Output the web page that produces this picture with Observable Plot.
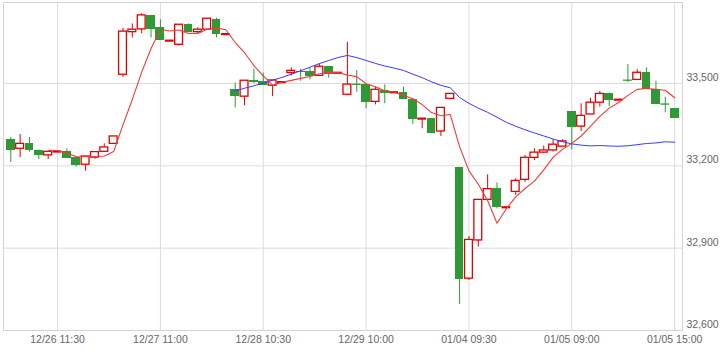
<!DOCTYPE html>
<html><head><meta charset="utf-8">
<script src="https://cdn.jsdelivr.net/npm/d3@7"></script>
<script src="https://cdn.jsdelivr.net/npm/@observablehq/plot@0.6"></script>
<style>html,body{margin:0;padding:0;background:#fff;overflow:hidden}svg{display:block}</style>
</head><body><div id="chart"></div>
<script>
// Trading days and 30-minute bar times
const days = ["12/26","12/27","12/28","12/29","01/04","01/05"];
const times = ["09:00","09:30","10:00","10:30","11:00","11:30","12:30","13:00","13:30","14:00","14:30","15:00"];

// OHLC values per bar
const open  = [33296,33262,33280,33256,33238,33252,33252,33231,33204,33230,33251,33280,
               33532,33687,33697,33748,33703,33656,33641,33715,33687,33696,33733,33680,
               33477,33452,33511,33508,33492,33505,33538,33545,33544,33528,33562,33539,
               33459,33498,33496,33433,33474,33468,33467,33441,33372,33372,33325,33444,
               33194,32789,32928,33076,33116,33049,33105,33149,33229,33248,33256,33270,
               33398,33343,33387,33430,33465,33441,33513,33513,33539,33477,33426,33408];
const high  = [33303,33314,33303,33258,33251,33253,33262,33231,33234,33250,33280,33307,
               33701,33717,33754,33748,33732,33657,33714,33717,33703,33736,33738,33681,
               33502,33510,33553,33538,33511,33506,33557,33551,33557,33572,33562,33540,
               33650,33547,33496,33487,33495,33469,33487,33441,33372,33372,33411,33462,
               33194,32942,33076,33167,33138,33050,33153,33238,33262,33272,33295,33295,
               33398,33426,33446,33471,33465,33442,33569,33550,33557,33508,33450,33408];
const low   = [33212,33230,33250,33223,33223,33251,33228,33195,33180,33224,33251,33280,
               33522,33666,33681,33666,33657,33655,33636,33685,33681,33696,33666,33679,
               33411,33419,33500,33492,33452,33504,33527,33508,33513,33528,33519,33538,
               33459,33468,33408,33422,33426,33467,33441,33351,33335,33319,33307,33444,
               32695,32782,32904,33076,33043,33048,33092,33140,33219,33248,33250,33270,
               33258,33325,33387,33414,33416,33440,33503,33513,33478,33423,33393,33374];
const close = [33257,33280,33257,33239,33251,33252,33228,33201,33234,33250,33267,33307,
               33689,33696,33748,33698,33657,33656,33714,33687,33696,33736,33680,33680,
               33454,33510,33503,33492,33511,33505,33546,33539,33527,33561,33532,33539,
               33496,33497,33432,33477,33465,33468,33441,33370,33372,33319,33411,33462,
               32785,32930,33076,33115,33049,33049,33145,33229,33248,33256,33277,33289,
               33339,33382,33430,33462,33438,33441,33512,33539,33478,33423,33425,33374];

const xTickLabels = ["12/26 11:30","12/27 11:00","12/28 10:30","12/29 10:00","01/04 09:30","01/05 09:00","01/05 15:00"];
const yTicks = [32600, 32900, 33200, 33500];

const RED = "#e00000", GREEN = "#2f9a35";

const labels = days.flatMap(d => times.map(t => d + " " + t));
const bars = open.map((o, i) => ({
  i, label: labels[i], open: o, high: high[i], low: low[i], close: close[i],
  up: close[i] >= o, doji: Math.abs(close[i] - o) < 3
}));
const tickIdx = xTickLabels.map(l => labels.indexOf(l));

const chart = Plot.plot({
  width: 722, height: 356,
  marginLeft: 3, marginRight: 40, marginTop: 2, marginBottom: 26,
  style: {fontFamily: "'Liberation Sans', Arial, sans-serif", fontSize: "10.5px", color: "#666", background: "#fff"},
  x: {type: "linear", domain: [-0.78, 71.84], axis: null, label: null},
  y: {domain: [32600, 33795], axis: null, label: null},
  marks: [
    Plot.gridX(tickIdx, {stroke: "#dcdcdc", strokeOpacity: 1}),
    Plot.gridY(yTicks, {stroke: "#dcdcdc", strokeOpacity: 1}),
    Plot.frame({stroke: "#d4d4d4"}),
    Plot.ruleX(bars, {x: "i", y1: "low", y2: "high", stroke: d => d.up ? RED : GREEN, strokeWidth: 1}),
    Plot.rect(bars.filter(d => !d.doji && !d.up), {
      x1: d => d.i - 0.47, x2: d => d.i + 0.47, y1: "open", y2: "close", fill: GREEN, shapeRendering: "crispEdges"
    }),
    Plot.rect(bars.filter(d => !d.doji && d.up), {
      x1: d => d.i - 0.42, x2: d => d.i + 0.42, y1: "open", y2: "close", fill: "white", stroke: RED, strokeWidth: 1.3
    }),
    Plot.ruleY(bars.filter(d => d.doji), {
      y: "close", x1: d => d.i - 0.47, x2: d => d.i + 0.47,
      stroke: d => d.up ? RED : GREEN, strokeWidth: d => d.up ? 2.2 : 1.3
    }),
    Plot.lineY(bars, Plot.windowY({k: 25, anchor: "end", strict: true}, {x: "i", y: "close", stroke: "#3b3bf5", strokeWidth: 1})),
    Plot.lineY(bars, Plot.windowY({k: 5, anchor: "end", strict: true}, {x: "i", y: "close", stroke: "#f23a3a", strokeWidth: 1.1})),
    Plot.axisX(tickIdx, {tickSize: 0, tickPadding: 5, tickFormat: i => labels[i], fill: "#666", label: null}),
    Plot.axisY(yTicks, {anchor: "right", tickSize: 0, tickPadding: 4, dy: -6, tickFormat: d3.format(","), fill: "#666", label: null})
  ]
});
document.getElementById("chart").appendChild(chart);
</script>
</body></html>
